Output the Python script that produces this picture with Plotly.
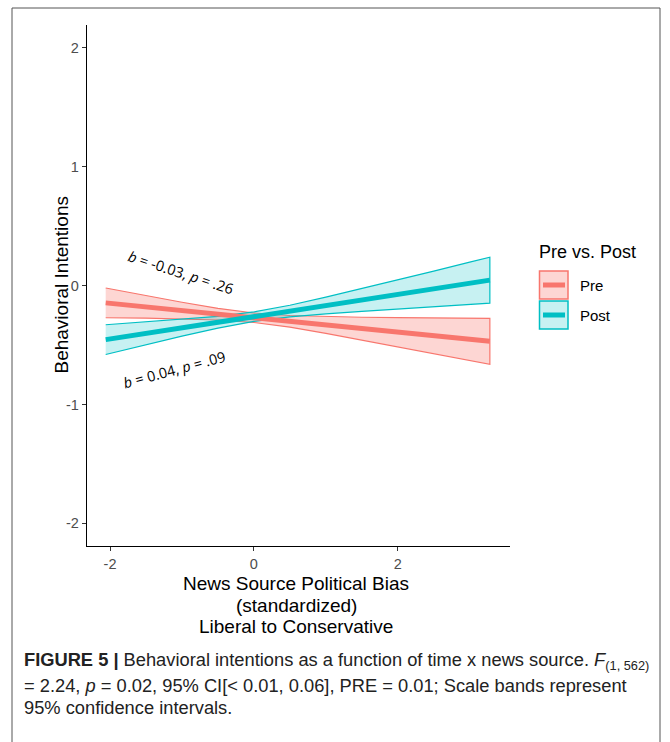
import plotly.graph_objects as go

# ---- data ----
bias_x = [-2.06, -1.5, -1.0, -0.5, 0.0, 0.5, 1.0, 1.5, 2.0, 2.5, 3.0, 3.28]

pre_fit = [-0.146, -0.180, -0.211, -0.241, -0.271, -0.301, -0.332, -0.362, -0.392, -0.422, -0.453, -0.469]
pre_upper = [-0.021, -0.085, -0.141, -0.192, -0.231, -0.252, -0.262, -0.267, -0.270, -0.273, -0.276, -0.276]
pre_lower = [-0.271, -0.275, -0.281, -0.290, -0.311, -0.350, -0.402, -0.457, -0.514, -0.571, -0.630, -0.662]

post_fit = [-0.455, -0.402, -0.356, -0.309, -0.262, -0.215, -0.168, -0.122, -0.075, -0.028, 0.019, 0.045]
post_upper = [-0.330, -0.307, -0.286, -0.260, -0.222, -0.166, -0.098, -0.027, 0.047, 0.121, 0.196, 0.238]
post_lower = [-0.580, -0.497, -0.426, -0.358, -0.302, -0.264, -0.238, -0.217, -0.197, -0.177, -0.158, -0.148]

series_names = ["Pre", "Post"]
line_colors = ["#F8766D", "#00BFC4"]
fill_colors = ["rgba(248,118,109,0.3)", "rgba(0,191,196,0.22)"]

x_ticks = [-2, 0, 2]
x_ticklabels = ["-2", "0", "2"]
y_ticks = [-2, -1, 0, 1, 2]
y_ticklabels = ["-2", "-1", "0", "1", "2"]

ann_pre = "<i>b</i> = -0.03, <i>p</i> = .26"
ann_post = "<i>b</i> = 0.04, <i>p</i> = .09"

caption_lines = [
    "<b>FIGURE 5 |</b> Behavioral intentions as a function of time x news source. <i>F</i><sub>(1, 562)</sub>",
    "= 2.24, <i>p</i> = 0.02, 95% CI[< 0.01, 0.06], PRE = 0.01; Scale bands represent",
    "95% confidence intervals.",
]

fig = go.Figure()

bands = [(pre_upper, pre_lower), (post_upper, post_lower)]
fits = [pre_fit, post_fit]

for i, (up, lo) in enumerate(bands):
    fig.add_trace(go.Scatter(
        x=bias_x + bias_x[::-1],
        y=up + lo[::-1],
        fill="toself",
        fillcolor=fill_colors[i],
        line=dict(color=line_colors[i], width=1.2),
        mode="lines",
        hoverinfo="skip",
        showlegend=False,
    ))

for i, f in enumerate(fits):
    fig.add_trace(go.Scatter(
        x=bias_x, y=f, mode="lines",
        line=dict(color=line_colors[i], width=5),
        name=series_names[i], showlegend=False,
    ))

# plot area in px: x 87..510, y 25..546
L, R, T, B = 87, 510, 25, 546
W, H = 670, 742


def px(xp):
    return (xp - L) / (R - L)


def py(yp):
    return (B - yp) / (B - T)


TXT = "Liberation Sans, Arial"
annotations = []
annotations.append(dict(x=-1.01, y=0.11, xref="x", yref="y", text=ann_pre,
                        textangle=18, showarrow=False,
                        font=dict(family="Open Sans", size=14.5, color="black")))
annotations.append(dict(x=-1.10, y=-0.71, xref="x", yref="y", text=ann_post,
                        textangle=-15, showarrow=False,
                        font=dict(family="Open Sans", size=14.5, color="black")))

# axis titles
annotations.append(dict(x=px(48), y=py(285), xref="paper", yref="paper",
                        text="Behavioral Intentions", textangle=-90, showarrow=False,
                        font=dict(family=TXT, size=19, color="black")))
for txt, yy in zip(["News Source Political Bias", "(standardized)", "Liberal to Conservative"],
                   [583, 605, 626]):
    annotations.append(dict(x=px(296), y=py(yy), xref="paper", yref="paper",
                            text=txt, showarrow=False, xanchor="center", yanchor="middle",
                            font=dict(family=TXT, size=19, color="black")))

# legend (manual)
annotations.append(dict(x=px(537), y=py(252), xref="paper", yref="paper", text="Pre vs. Post",
                        showarrow=False, xanchor="left", yanchor="middle",
                        font=dict(family=TXT, size=18, color="black")))
for name, yy in zip(series_names, [285, 315]):
    annotations.append(dict(x=px(578), y=py(yy), xref="paper", yref="paper", text=name,
                            showarrow=False, xanchor="left", yanchor="middle",
                            font=dict(family=TXT, size=15, color="black")))

# caption
for txt, yy in zip(caption_lines, [661, 685, 707]):
    annotations.append(dict(x=px(22), y=py(yy), xref="paper", yref="paper", text=txt,
                            showarrow=False, xanchor="left", yanchor="middle",
                            font=dict(family=TXT, size=18.3, color="#222")))

shapes = []
# outer frame
shapes.append(dict(type="rect", xref="paper", yref="paper",
                   x0=px(12), x1=px(660), y0=py(760), y1=py(8),
                   line=dict(color="#555", width=1), fillcolor="rgba(0,0,0,0)", layer="below"))
# legend keys
for i, (y0, y1, yl) in enumerate([(271, 299, 285), (301, 329, 315)]):
    shapes.append(dict(type="rect", xref="paper", yref="paper",
                       x0=px(539.5), x1=px(568), y0=py(y1), y1=py(y0),
                       line=dict(color=line_colors[i], width=1.5), fillcolor=fill_colors[i]))
    shapes.append(dict(type="line", xref="paper", yref="paper",
                       x0=px(543), x1=px(565), y0=py(yl), y1=py(yl),
                       line=dict(color=line_colors[i], width=5)))

fig.update_layout(
    width=W, height=H,
    margin=dict(l=L, r=W - R, t=T, b=H - B, pad=0),
    paper_bgcolor="white", plot_bgcolor="white",
    showlegend=False,
    annotations=annotations, shapes=shapes,
    font=dict(family=TXT, color="#4D4D4D"),
)
fig.update_xaxes(range=[-2.32, 3.56], tickvals=x_ticks, ticktext=x_ticklabels,
                 ticks="outside", ticklen=4,
                 tickcolor="#333", tickwidth=1, showline=True, linecolor="black", linewidth=1.3,
                 showgrid=False, zeroline=False, tickfont=dict(size=14.5, color="#4D4D4D"))
fig.update_yaxes(range=[-2.19, 2.19], tickvals=y_ticks, ticktext=y_ticklabels,
                 ticks="outside", ticklen=4,
                 tickcolor="#333", tickwidth=1, showline=True, linecolor="black", linewidth=1.3,
                 showgrid=False, zeroline=False, tickfont=dict(size=14.5, color="#4D4D4D"))

fig.write_html("out.html", config={"displayModeBar": False},
               post_script="document.body.style.margin='0';document.body.style.overflow='hidden';")
